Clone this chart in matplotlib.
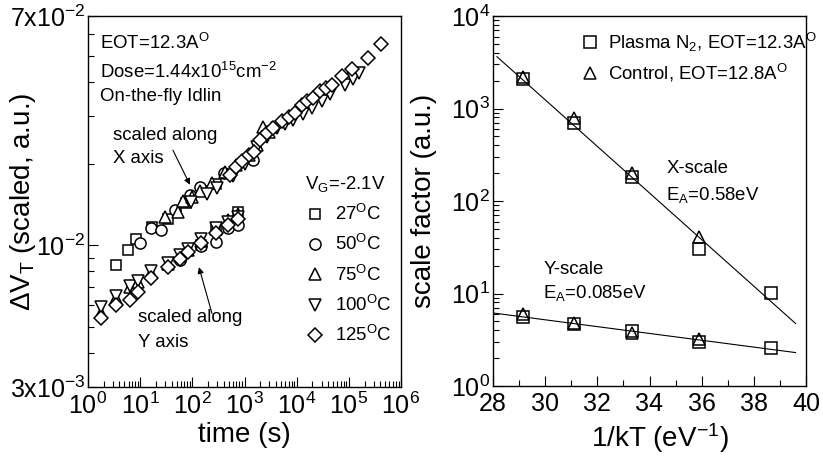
import matplotlib
matplotlib.use("Agg")
import numpy as np
import matplotlib.pyplot as plt
from matplotlib.ticker import LogLocator, FixedLocator, NullFormatter, MultipleLocator
from matplotlib.lines import Line2D

plt.rcParams['font.family'] = ['Liberation Sans', 'DejaVu Sans']
plt.rcParams['mathtext.fontset'] = 'custom'
plt.rcParams['mathtext.rm'] = 'Liberation Sans'
plt.rcParams['mathtext.it'] = 'Liberation Sans:italic'
plt.rcParams['mathtext.bf'] = 'Liberation Sans:bold'

# ---------------- left panel: scaled dVt vs time ----------------
temps = ["27", "50", "75", "100", "125"]
markers = ["s", "o", "^", "v", "D"]

# curves scaled along the X (time) axis
x_t27 = [3.4, 5.8, 8.3, 17, 34, 75, 150, 280]
x_v27 = [8.45e-3, 9.6e-3, 1.05e-2, 1.17e-2, 1.25e-2, 1.43e-2, 1.58e-2, 1.68e-2]
x_t50 = [10, 16, 25, 46, 90, 140, 400, 1440]
x_v50 = [1.02e-2, 1.16e-2, 1.14e-2, 1.35e-2, 1.53e-2, 1.64e-2, 1.85e-2, 2.06e-2]
x_t75 = [30, 53, 66, 100, 140, 240, 420, 700, 1200, 1740, 2250, 3000]
x_v75 = [1.27e-2, 1.32e-2, 1.46e-2, 1.50e-2, 1.58e-2, 1.70e-2, 1.86e-2, 1.98e-2,
         2.15e-2, 2.34e-2, 2.73e-2, 2.62e-2]
x_t100 = [94, 190, 300, 600, 1000, 1700, 2700, 4200, 6000, 8500, 1.3e4, 2.0e4,
          3.1e4, 4.3e4, 8.3e4, 1.2e5, 1.6e5]
x_v100 = [1.44e-2, 1.55e-2, 1.62e-2, 1.80e-2, 2.00e-2, 2.30e-2, 2.50e-2, 2.70e-2,
          2.80e-2, 2.90e-2, 3.05e-2, 3.20e-2, 3.40e-2, 3.60e-2, 3.90e-2, 4.10e-2,
          4.30e-2]
x_t125 = [530, 700, 900, 1200, 1500, 2000, 2700, 3500, 5200, 7000, 9300, 1.26e4,
          1.6e4, 2.1e4, 2.8e4, 3.6e4, 4.7e4, 7.4e4, 1.15e5, 2.3e5, 4.2e5]
x_v125 = [1.81e-2, 1.95e-2, 2.05e-2, 2.15e-2, 2.20e-2, 2.45e-2, 2.60e-2, 2.70e-2,
          2.88e-2, 2.98e-2, 3.07e-2, 3.30e-2, 3.40e-2, 3.50e-2, 3.70e-2, 3.80e-2,
          3.90e-2, 4.20e-2, 4.45e-2, 4.90e-2, 5.52e-2]

# curves scaled along the Y (dVt) axis
y_t27 = [146, 283, 750]
y_v27 = [1.0e-2, 1.14e-2, 1.33e-2]
y_t50 = [58, 146, 283, 483, 750]
y_v50 = [8.8e-3, 9.9e-3, 1.03e-2, 1.16e-2, 1.19e-2]
y_t_hot = [1.8, 3.4, 6.4, 9.1, 16, 34, 58, 82, 146, 283, 483, 750]
y_v75 = [5.6e-3, 6.4e-3, 7.0e-3, 7.3e-3, 7.9e-3, 8.5e-3, 9.1e-3, 9.6e-3,
         1.04e-2, 1.15e-2, 1.24e-2, 1.30e-2]
y_v100 = [5.9e-3, 6.5e-3, 7.1e-3, 7.4e-3, 8.0e-3, 8.6e-3, 9.2e-3, 9.7e-3,
          1.05e-2, 1.16e-2, 1.22e-2, 1.27e-2]
y_v125 = [5.4e-3, 6.0e-3, 6.3e-3, 6.7e-3, 7.6e-3, 8.3e-3, 8.9e-3, 9.4e-3,
          1.02e-2, 1.11e-2, 1.19e-2, 1.25e-2]

x_sets = [(x_t27, x_v27), (x_t50, x_v50), (x_t75, x_v75), (x_t100, x_v100), (x_t125, x_v125)]
y_sets = [(y_t27, y_v27), (y_t50, y_v50), (y_t_hot, y_v75), (y_t_hot, y_v100), (y_t_hot, y_v125)]

left_yticks = [3e-3, 1e-2, 7e-2]
left_yticklabels = ["3x10$^{-3}$", "10$^{-2}$", "7x10$^{-2}$"]

# ---------------- right panel: Arrhenius plot of scale factors ----------------
invkT = [29.15, 31.1, 33.33, 35.91, 38.66]
xs_plasma = [2090, 697, 182, 30.3, 10.1]
xs_control = [2200, 790, 200, 40.8]
ys_plasma = [5.57, 4.68, 3.93, 2.99, 2.58]
ys_control = [6.0, 4.8, 3.74, 3.2]
ea_x = 0.58     # eV
ea_y = 0.085    # eV
fit_x_ref = (33.33, 180.0)
fit_y_ref = (28.0, 6.16)
fit_x_range = (28.15, 39.6)
fit_y_range = (28.0, 39.6)

FS_TICK = 18
FS_LABEL = 20
FS_TXT = 13.4
MS = 8
MEW = 1.1

W, H = 823, 457
fig = plt.figure(figsize=(W / 100, H / 100), dpi=100)
ax1 = fig.add_axes([88 / W, (H - 387) / H, 313 / W, 371 / H])
ax2 = fig.add_axes([493 / W, (H - 386) / H, 313 / W, 370 / H])

handles = []
for (tx, vx), (ty, vy), m, T in zip(x_sets, y_sets, markers, temps):
    ms = MS - 0.5 if m in ("s", "D") else MS
    kw = dict(linestyle="none", marker=m, markersize=ms, markerfacecolor="white",
              markeredgecolor="black", markeredgewidth=MEW)
    ax1.plot(ty, vy, **kw)
    ax1.plot(tx, vx, **kw)
    handles.append(Line2D([], [], label=f"{T}$^\\mathrm{{O}}$C", **kw))

ax1.set_xscale("log")
ax1.set_yscale("log")
ax1.set_xlim(1, 1e6)
ax1.set_ylim(3e-3, 7e-2)
ax1.xaxis.set_major_locator(LogLocator(base=10, numticks=10))
ax1.xaxis.set_minor_locator(LogLocator(base=10, subs=range(2, 10), numticks=20))
ax1.xaxis.set_minor_formatter(NullFormatter())
ax1.yaxis.set_major_locator(FixedLocator(left_yticks))
ax1.set_yticklabels(left_yticklabels)
ax1.yaxis.set_minor_locator(LogLocator(base=10, subs=range(2, 10), numticks=20))
ax1.yaxis.set_minor_formatter(NullFormatter())

ax1.set_xlabel("time (s)", fontsize=FS_LABEL)
ax1.set_ylabel("ΔV$_\\mathrm{T}$ (scaled, a.u.)", fontsize=FS_LABEL)
ax1.xaxis.set_label_coords(0.5, -0.095)
ax1.yaxis.set_label_coords(-0.16, 0.5)

ax1.text(0.038, 0.927, "EOT=12.3A$^\\mathrm{O}$", transform=ax1.transAxes,
         fontsize=FS_TXT, va="center", ha="left")
ax1.text(0.038, 0.849, "Dose=1.44x10$^{15}$cm$^{-2}$", transform=ax1.transAxes,
         fontsize=FS_TXT, va="center", ha="left")
ax1.text(0.038, 0.782, "On-the-fly Idlin", transform=ax1.transAxes,
         fontsize=FS_TXT, va="center", ha="left")
ax1.text(0.080, 0.679, "scaled along", transform=ax1.transAxes,
         fontsize=FS_TXT, va="center", ha="left")
ax1.text(0.080, 0.615, "X axis", transform=ax1.transAxes,
         fontsize=FS_TXT, va="center", ha="left")
ax1.text(0.160, 0.186, "scaled along", transform=ax1.transAxes,
         fontsize=FS_TXT, va="center", ha="left")
ax1.text(0.160, 0.121, "Y axis", transform=ax1.transAxes,
         fontsize=FS_TXT, va="center", ha="left")

arrow_kw = dict(arrowstyle="-|>", color="black", lw=0.8, mutation_scale=9,
                shrinkA=0, shrinkB=0)
ax1.annotate("", xy=(90, 1.67e-2), xytext=(42.5, 2.24e-2), arrowprops=arrow_kw)
ax1.annotate("", xy=(134, 8.3e-3), xytext=(238, 5.6e-3), arrowprops=arrow_kw)

ax1.legend(handles=handles, title="V$_\\mathrm{G}$=-2.1V", loc="upper left",
           bbox_to_anchor=(0.665, 0.60), frameon=False, fontsize=FS_TXT,
           title_fontsize=FS_TXT, handlelength=1.0, handletextpad=0.6,
           labelspacing=0.55, borderpad=0.0, alignment="left")

# ---------------- right panel ----------------
mk = dict(linestyle="none", markersize=MS, markerfacecolor="none",
          markeredgecolor="black", markeredgewidth=MEW)
ax2.plot(invkT, xs_plasma, marker="s", **mk)
ax2.plot(invkT[:len(xs_control)], xs_control, marker="^", **mk)
ax2.plot(invkT, ys_plasma, marker="s", **mk)
ax2.plot(invkT[:len(ys_control)], ys_control, marker="^", **mk)

# Arrhenius fits: log10(y) falls by Ea/ln(10) per unit of 1/kT
ln10 = np.log(10)
fxx = np.array(fit_x_range)
fxy = np.array(fit_y_range)
fit_xs = 10 ** (np.log10(fit_x_ref[1]) - ea_x / ln10 * (fxx - fit_x_ref[0]))
fit_ys = 10 ** (np.log10(fit_y_ref[1]) - ea_y / ln10 * (fxy - fit_y_ref[0]))
ax2.plot(fxx, fit_xs, color="black", lw=0.8)
ax2.plot(fxy, fit_ys, color="black", lw=0.8)

ax2.set_yscale("log")
ax2.set_xlim(28, 40)
ax2.set_ylim(1, 1e4)
ax2.xaxis.set_major_locator(MultipleLocator(2))
ax2.xaxis.set_minor_locator(MultipleLocator(1))
ax2.yaxis.set_major_locator(LogLocator(base=10, numticks=10))
ax2.yaxis.set_minor_locator(LogLocator(base=10, subs=range(2, 10), numticks=20))
ax2.yaxis.set_minor_formatter(NullFormatter())
ax2.set_xlabel("1/kT (eV$^{-1}$)", fontsize=FS_LABEL)
ax2.set_ylabel("scale factor (a.u.)", fontsize=FS_LABEL)
ax2.xaxis.set_label_coords(0.534, -0.095)
ax2.yaxis.set_label_coords(-0.18, 0.5)

ax2.text(0.553, 0.589, "X-scale", transform=ax2.transAxes, fontsize=FS_TXT,
         va="center", ha="left")
ax2.text(0.553, 0.516, f"E$_\\mathrm{{A}}$={ea_x:.2f}eV", transform=ax2.transAxes,
         fontsize=FS_TXT, va="center", ha="left")
ax2.text(0.160, 0.314, "Y-scale", transform=ax2.transAxes, fontsize=FS_TXT,
         va="center", ha="left")
ax2.text(0.160, 0.251, f"E$_\\mathrm{{A}}$={ea_y:.3f}eV", transform=ax2.transAxes,
         fontsize=FS_TXT, va="center", ha="left")

leg_h = [Line2D([], [], marker="s", label="Plasma N$_2$, EOT=12.3A$^\\mathrm{O}$", **mk),
         Line2D([], [], marker="^", label="Control, EOT=12.8A$^\\mathrm{O}$", **mk)]
ax2.legend(handles=leg_h, loc="upper left", bbox_to_anchor=(0.25, 0.985),
           frameon=False, fontsize=FS_TXT, handlelength=1.0, handletextpad=0.5,
           labelspacing=0.45, borderpad=0.0)

for ax in (ax1, ax2):
    for s in ax.spines.values():
        s.set_linewidth(1.0)
    ax.tick_params(which="both", direction="in", top=False, right=False,
                   labelsize=FS_TICK, width=0.8)
    ax.tick_params(which="major", length=7, pad=4)
    ax.tick_params(which="minor", length=4)
ax1.tick_params(axis="y", which="major", pad=2)
ax2.tick_params(axis="y", which="major", pad=2)

fig.savefig("out.png", dpi=100)
